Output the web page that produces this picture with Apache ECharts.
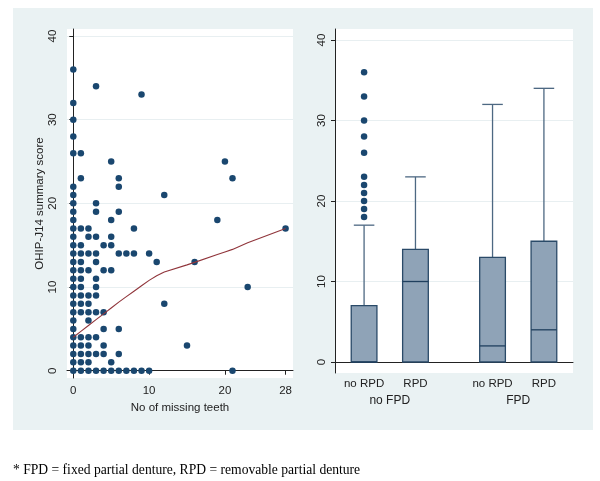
<!DOCTYPE html>
<html><head><meta charset="utf-8">
<script src="https://cdn.jsdelivr.net/npm/echarts@6/dist/echarts.min.js"></script>
<style>html,body{margin:0;padding:0;background:#fff}#c{width:600px;height:481px}</style>
</head><body><div id="c"></div><script>
// ---- Left panel: scatter of OHIP-J14 score vs number of missing teeth ----
const teethMissing = [
  0, 3, 9, 0, 0, 0,
  0, 1,
  5, 20,
  1, 6, 21,
  0, 6,
  0, 12,
  0, 3,
  0, 3, 6,
  0, 5, 19,
  0, 1, 2, 8, 28,
  0, 2, 3, 5,
  0, 1, 4, 5,
  0, 1, 2, 3, 6, 7, 8, 10,
  0, 1, 3, 11, 16,
  0, 1, 2, 4, 5,
  0, 1, 3,
  0, 1, 3, 23,
  0, 1, 2, 3,
  0, 1, 2, 12,
  0, 1, 2, 3, 4,
  0, 2,
  0, 4, 6,
  0, 1, 2, 3,
  0, 1, 2, 4, 15,
  0, 1, 2, 3, 4, 6,
  0, 1, 2, 5,
  0, 1, 2, 3, 4, 5, 6, 7, 8, 9, 10, 21
];
const ohipScore = [
  36, 34, 33, 32, 30, 28,
  26, 26,
  25, 25,
  23, 23, 23,
  22, 22,
  21, 21,
  20, 20,
  19, 19, 19,
  18, 18, 18,
  17, 17, 17, 17, 17,
  16, 16, 16, 16,
  15, 15, 15, 15,
  14, 14, 14, 14, 14, 14, 14, 14,
  13, 13, 13, 13, 13,
  12, 12, 12, 12, 12,
  11, 11, 11,
  10, 10, 10, 10,
  9, 9, 9, 9,
  8, 8, 8, 8,
  7, 7, 7, 7, 7,
  6, 6,
  5, 5, 5,
  4, 4, 4, 4,
  3, 3, 3, 3, 3,
  2, 2, 2, 2, 2, 2,
  1, 1, 1, 1,
  0, 0, 0, 0, 0, 0, 0, 0, 0, 0, 0, 0
];
// lowess smooth
const lowessX = [0, 1, 2, 3, 4, 5, 6, 7, 8, 9, 10, 11, 12, 15, 16, 19, 20, 21, 23, 28];
const lowessY = [4.0, 4.7, 5.4, 6.1, 6.8, 7.5, 8.2, 8.85, 9.5, 10.15, 10.8, 11.35, 11.8, 12.65, 12.95, 13.9, 14.2, 14.5, 15.3, 17.0];
const leftXTicks = [0, 10, 20, 28];
const yTicks = [0, 10, 20, 30, 40];

// ---- Right panel: box plots ----
const boxPos = [1, 2, 3.5, 4.5];
const boxLabels = ['no RPD', 'RPD', 'no RPD', 'RPD'];
const boxMin = [0, 0, 0, 0];
const boxQ1 = [0, 0, 0, 0];
const boxMedian = [0, 10, 2, 4];
const boxQ3 = [7, 14, 13, 15];
const boxUpper = [17, 23, 32, 34];
const outlierValues = [18, 19, 20, 21, 22, 23, 26, 28, 30, 33, 36];
const outlierBox = 0;
const groupLabels = ['no FPD', 'FPD'];
const groupPos = [1.5, 4.0];

const footnote = '* FPD = fixed partial denture, RPD = removable partial denture';

const scatterData = teethMissing.map((x, i) => [x, ohipScore[i]]);
const lowessData = lowessX.map((x, i) => [x, lowessY[i]]);
const boxData = boxPos.map((p, i) => [p, boxMin[i], boxQ1[i], boxMedian[i], boxQ3[i], boxUpper[i]]);
const outlierData = outlierValues.map(v => [boxPos[outlierBox], v]);

const NAVY = '#1a476f';
const FONT = 'Liberation Sans, Arial, sans-serif';
const axisCommon = {
  axisLine: { show: true, lineStyle: { color: '#222', width: 1 } },
  axisTick: { show: true, length: 4, lineStyle: { color: '#222' } },
  axisLabel: { color: '#222', fontSize: 11.5, fontFamily: FONT },
};
const gridLine = { show: true, lineStyle: { color: '#e8eff1', width: 1 } };

const chart = echarts.init(document.getElementById('c'));
chart.setOption({
  backgroundColor: '#fff',
  animation: false,
  title: {
    text: footnote, left: 8, top: 458,
    textStyle: { fontFamily: 'Liberation Serif, Times New Roman, serif', fontSize: 13.6, fontWeight: 'normal', color: '#000' }
  },
  graphic: [{
    type: 'rect', z: -10, silent: true,
    shape: { x: 13, y: 8, width: 580, height: 422 },
    style: { fill: '#eaf2f3' }
  }],
  grid: [
    { left: 67, top: 29, width: 226, height: 349, show: true, backgroundColor: '#fff', borderWidth: 0 },
    { left: 335, top: 29, width: 238, height: 344, show: true, backgroundColor: '#fff', borderWidth: 0 }
  ],
  xAxis: [
    Object.assign({}, axisCommon, {
      type: 'value', gridIndex: 0, min: -0.83, max: 28.98,
      axisTick: Object.assign({}, axisCommon.axisTick, { customValues: leftXTicks }),
      axisLabel: Object.assign({}, axisCommon.axisLabel, { customValues: leftXTicks, margin: 7 }),
      splitLine: { show: false },
      name: 'No of missing teeth', nameLocation: 'middle', nameGap: 17,
      nameTextStyle: { color: '#222', fontSize: 11.5, fontFamily: FONT }
    }),
    Object.assign({}, axisCommon, {
      type: 'value', gridIndex: 1, min: 0.434, max: 5.066,
      axisTick: { show: false, customValues: boxPos },
      axisLabel: Object.assign({}, axisCommon.axisLabel, {
        customValues: boxPos, margin: 5,
        formatter: v => boxLabels[boxPos.indexOf(v)]
      }),
      splitLine: { show: false }
    }),
    {
      type: 'value', gridIndex: 1, min: 0.434, max: 5.066, position: 'bottom', offset: 18,
      axisLine: { show: false }, axisTick: { show: false, customValues: groupPos },
      axisLabel: { color: '#222', fontSize: 12, fontFamily: FONT, margin: 4,
        customValues: groupPos, formatter: v => groupLabels[groupPos.indexOf(v)] },
      splitLine: { show: false }
    }
  ],
  yAxis: [
    Object.assign({}, axisCommon, {
      type: 'value', gridIndex: 0, min: -0.87, max: 40.84,
      axisTick: Object.assign({}, axisCommon.axisTick, { customValues: yTicks }),
      axisLabel: Object.assign({}, axisCommon.axisLabel, { customValues: yTicks, rotate: 90, margin: 8 }),
      splitLine: gridLine,
      name: 'OHIP-J14 summary score', nameLocation: 'middle', nameGap: 17,
      nameTextStyle: { color: '#222', fontSize: 11.5, fontFamily: FONT }
    }),
    Object.assign({}, axisCommon, {
      type: 'value', gridIndex: 1, min: -1.365, max: 41.37,
      axisTick: Object.assign({}, axisCommon.axisTick, { customValues: yTicks }),
      axisLabel: Object.assign({}, axisCommon.axisLabel, { customValues: yTicks, rotate: 90, margin: 7 }),
      splitLine: gridLine
    })
  ],
  series: [
    {
      type: 'scatter', xAxisIndex: 0, yAxisIndex: 0, data: scatterData,
      symbol: 'circle', symbolSize: 6.5, itemStyle: { color: NAVY, opacity: 1 }, z: 3
    },
    {
      type: 'line', xAxisIndex: 0, yAxisIndex: 0, data: lowessData,
      showSymbol: false, symbol: 'none', lineStyle: { color: '#90353b', width: 1.1 }, z: 4
    },
    {
      type: 'custom', xAxisIndex: 1, yAxisIndex: 1, data: boxData,
      encode: { x: 0, y: [1, 2, 3, 4, 5] },
      renderItem: function (params, api) {
        const p = api.value(0);
        const bw = api.size([0.5, 0])[0];
        const cw = api.size([0.4, 0])[0];
        const pMin = api.coord([p, api.value(1)]);
        const pQ1 = api.coord([p, api.value(2)]);
        const pMed = api.coord([p, api.value(3)]);
        const pQ3 = api.coord([p, api.value(4)]);
        const pMax = api.coord([p, api.value(5)]);
        const cx = pQ1[0];
        const wh = { stroke: '#4d6882', lineWidth: 1.3 };
        const children = [
          { type: 'line', shape: { x1: cx, y1: pQ3[1], x2: cx, y2: pMax[1] }, style: wh },
          { type: 'line', shape: { x1: cx - cw / 2, y1: pMax[1], x2: cx + cw / 2, y2: pMax[1] }, style: wh },
          { type: 'rect', shape: { x: cx - bw / 2, y: pQ3[1], width: bw, height: pQ1[1] - pQ3[1] },
            style: { fill: '#8fa3b7', stroke: '#2a4a68', lineWidth: 1.3 } },
          { type: 'line', shape: { x1: cx - bw / 2, y1: pMed[1], x2: cx + bw / 2, y2: pMed[1] },
            style: { stroke: '#1f3f5e', lineWidth: 1.3 } }
        ];
        if (pMin[1] > pQ1[1] + 0.5) {
          children.push({ type: 'line', shape: { x1: cx, y1: pQ1[1], x2: cx, y2: pMin[1] }, style: wh });
          children.push({ type: 'line', shape: { x1: cx - cw / 2, y1: pMin[1], x2: cx + cw / 2, y2: pMin[1] }, style: wh });
        }
        return { type: 'group', children: children };
      },
      z: 3
    },
    {
      type: 'scatter', xAxisIndex: 1, yAxisIndex: 1, data: outlierData,
      symbol: 'circle', symbolSize: 6.5, itemStyle: { color: NAVY, opacity: 1 }, z: 4
    }
  ]
});
</script></body></html>
